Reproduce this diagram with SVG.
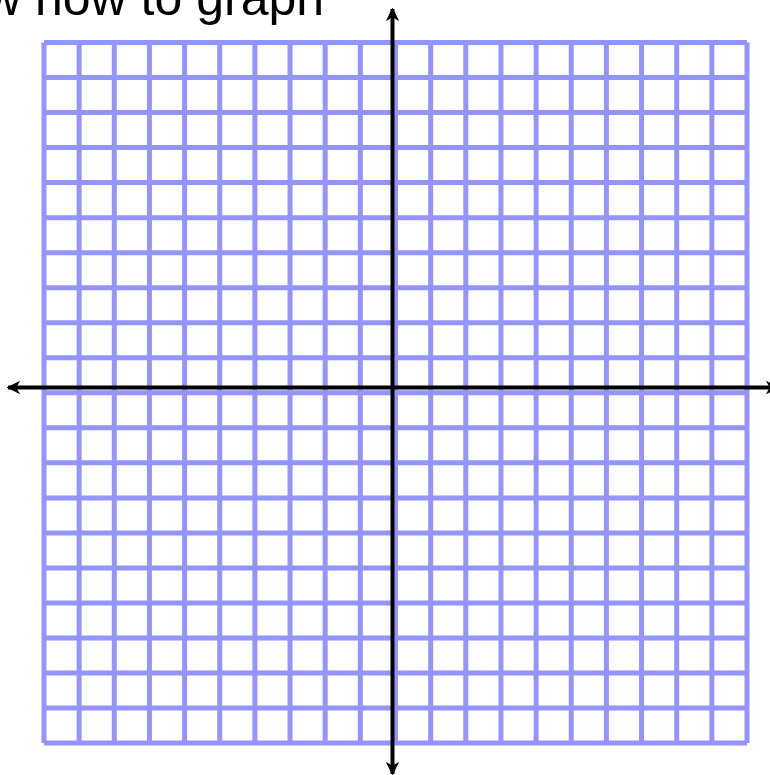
<svg xmlns="http://www.w3.org/2000/svg" width="770" height="775" viewBox="0 0 770 775">
<defs>
<style>
.grid{fill:none;stroke:#9494ff;stroke-width:5}
.axis{fill:none;stroke:#000;stroke-width:4}
.title{font-family:"Liberation Sans",Arial,sans-serif;font-size:50px;fill:#000}
</style>
<marker id="arr" viewBox="0 0 10 10" refX="9" refY="5" markerWidth="3.4" markerHeight="3.4" orient="auto" markerUnits="strokeWidth">
<path d="M0,0 L10,5 L0,10 L3,5 Z" fill="#000"/>
</marker>
</defs>
<rect width="770" height="775" fill="#fff"/>
<text class="title" x="-15" y="15">w how to graph</text>
<g id="grid">
<path class="grid" d="M44,42.5V743 M79.15,42.5V743 M114.3,42.5V743 M149.45,42.5V743 M184.6,42.5V743 M219.75,42.5V743 M254.9,42.5V743 M290.05,42.5V743 M325.2,42.5V743 M360.35,42.5V743 M395.5,42.5V743 M430.65,42.5V743 M465.8,42.5V743 M500.95,42.5V743 M536.1,42.5V743 M571.25,42.5V743 M606.4,42.5V743 M641.55,42.5V743 M676.7,42.5V743 M711.85,42.5V743 M747,42.5V743
M44,42.5H747 M44,77.53H747 M44,112.56H747 M44,147.59H747 M44,182.62H747 M44,217.65H747 M44,252.68H747 M44,287.71H747 M44,322.74H747 M44,357.77H747 M44,392.8H747 M44,427.83H747 M44,462.86H747 M44,497.89H747 M44,532.92H747 M44,567.95H747 M44,602.98H747 M44,638.01H747 M44,673.04H747 M44,708.07H747 M44,743.1H747"/>
</g>
<g id="connectors">
<line class="axis" x1="392.5" y1="387.5" x2="392.5" y2="9" marker-end="url(#arr)"/>
<line class="axis" x1="392.5" y1="387.5" x2="392.5" y2="774" marker-end="url(#arr)"/>
<line class="axis" x1="392.5" y1="387.5" x2="8" y2="387.5" marker-end="url(#arr)"/>
<line class="axis" x1="392.5" y1="387.5" x2="778" y2="387.5" marker-end="url(#arr)"/>
</g>
</svg>
